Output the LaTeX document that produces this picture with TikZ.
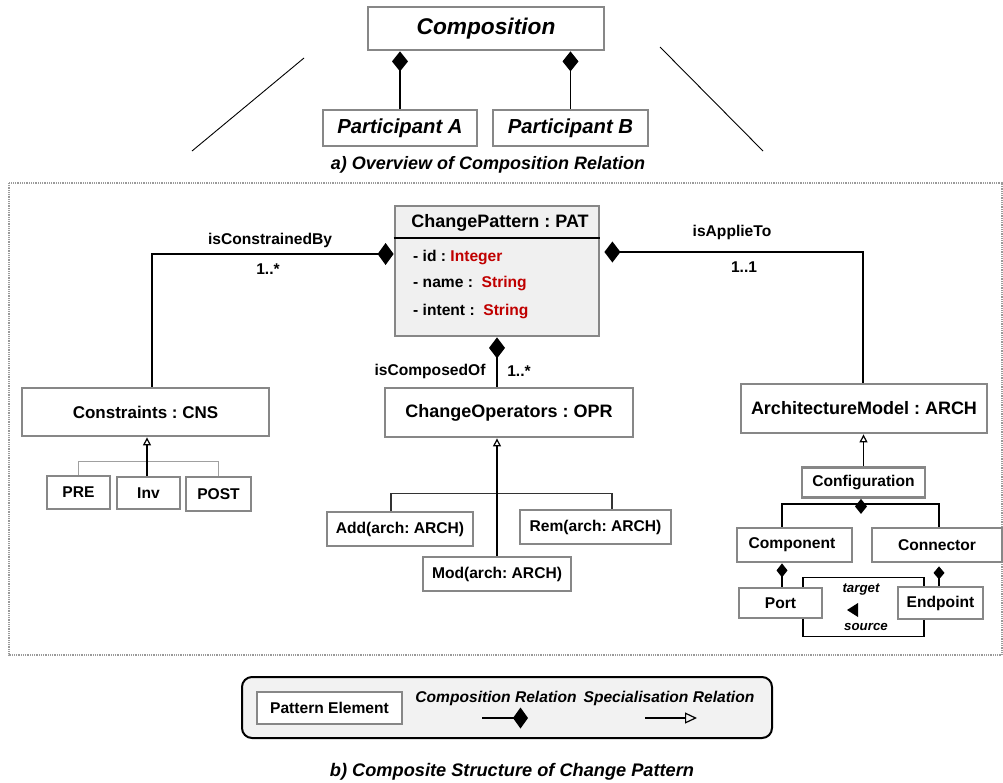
\documentclass[tikz,border=0pt]{standalone}
\usepackage{fontspec}
\setmainfont{Liberation Sans}
\usetikzlibrary{arrows.meta}
\definecolor{boxgray}{HTML}{878787}
\definecolor{fillgray}{HTML}{F0F0F0}
\definecolor{legendgray}{HTML}{F2F2F2}
\definecolor{attrred}{HTML}{C00000}
\definecolor{framegray}{HTML}{9A9A9A}
\definecolor{branchgray}{HTML}{A0A0A0}
\newcommand{\myfs}[1]{\fontsize{#1}{#1}\selectfont\bfseries\frenchspacing}
\newcommand{\myfsi}[1]{\fontsize{#1}{#1}\selectfont\bfseries\itshape\frenchspacing}
\begin{document}
\begin{tikzpicture}[x=1pt,y=-1pt,
  box/.style={draw=boxgray, line width=2.8pt, fill=white, inner sep=0pt, align=center},
  big/.style={font=\myfs{18}},
  sm/.style={font=\myfs{15.6}},
  lbl/.style={font=\myfs{15.6}, inner sep=0pt},
  conn/.style={line width=1.2pt, draw=black},
]
\useasboundingbox (0,0) rectangle (1003,782);

% ---------- a) overview ----------
\node[box, font=\myfsi{22.7}, minimum width=236pt, minimum height=43pt] (comp) at (486,28.5) {Composition};
\node[box, font=\myfsi{20.3}, minimum width=154pt, minimum height=36pt] (pa) at (400,128) {Participant A};
\node[box, font=\myfsi{20.3}, minimum width=155pt, minimum height=36pt] (pb) at (570.5,128) {Participant B};
\draw[conn, -{Diamond[length=20pt,width=16pt]}] (pa.north) -- (pa.north |- comp.south);
\draw[conn, -{Diamond[length=20pt,width=16pt]}] (pb.north) -- (pb.north |- comp.south);
\draw[line width=0.9pt] (304,58) -- (192,151);
\draw[line width=0.9pt] (660,47) -- (763,151);
\node[font=\myfsi{18}, inner sep=0pt] (capa) at (488,165) {a) Overview of Composition Relation};

% ---------- frame ----------
\draw[framegray, line width=1.3pt, dash pattern=on 1pt off 0.8pt] (9,183) rectangle (1002,655);

% ---------- ChangePattern ----------
\node[box, fill=fillgray, minimum width=204pt, minimum height=130pt] (cp) at (497,271) {};
\draw[line width=1.2pt] (cp.west |- 0,238) -- (cp.east |- 0,238);
\node[big, inner sep=0pt] (cpt) at (500,223) {ChangePattern : PAT};
\node[sm, inner sep=0pt, anchor=west] (a1) at (413,257) {- id : \textcolor{attrred}{Integer}};
\node[sm, inner sep=0pt, anchor=west] (a2) at (413,283) {- name :\ \ \textcolor{attrred}{String}};
\node[sm, inner sep=0pt, anchor=west] (a3) at (413,311) {- intent :\ \ \textcolor{attrred}{String}};

% ---------- Constraints ----------
\node[box, font=\myfs{17}, minimum width=247pt, minimum height=48pt] (cns) at (145.5,412) {Constraints : CNS};
\node[box, sm, minimum width=63pt, minimum height=33pt] (pre) at (78.5,492.5) {PRE};
\node[box, sm, minimum width=63pt, minimum height=32pt] (inv) at (148.5,493) {Inv};
\node[box, sm, minimum width=65pt, minimum height=34pt] (post) at (218.5,494) {POST};
\draw[line width=1.2pt, branchgray] (pre.north) -- ++(0,-13) -| (post.north);
\draw[conn, -{Triangle[open, length=8pt, width=8pt]}] ([xshift=-1.5pt]inv.north) -- ([xshift=-1.5pt]inv.north |- cns.south);
\draw[conn, -{Diamond[length=16pt,width=22pt]}] ([xshift=6.5pt]cns.north) |- ([yshift=17pt]cp.west);
\node[lbl] (l1) at (270,240) {isConstrainedBy};
\node[lbl] (m1) at (268,269) {1..*};

% ---------- ChangeOperators ----------
\node[box, big, minimum width=248pt, minimum height=49pt] (opr) at (509,412.5) {ChangeOperators : OPR};
\node[box, sm, minimum width=146pt, minimum height=34pt] (add) at (400,529) {Add(arch: ARCH)};
\node[box, sm, minimum width=151pt, minimum height=34pt] (rem) at (595.5,527) {Rem(arch: ARCH)};
\node[box, sm, minimum width=148pt, minimum height=34pt] (mod) at (497,574) {Mod(arch: ARCH)};
\draw[conn, draw=black!80] ([xshift=-9pt]add.north) -- ++(0,-17) -| ([xshift=16.5pt]rem.north);
\draw[conn, -{Triangle[open, length=8pt, width=8pt]}] (mod.north) -- (mod.north |- opr.south);
\draw[conn, -{Diamond[length=21pt,width=16pt]}] (cp.south |- opr.north) -- (cp.south);
\node[lbl] (l2) at (430,371) {isComposedOf};
\node[lbl] (m2) at (519,371) {1..*};

% ---------- ArchitectureModel ----------
\node[box, big, minimum width=246pt, minimum height=49pt] (arch) at (864,408.5) {ArchitectureModel : ARCH};
\draw[conn, -{Diamond[length=16pt,width=21pt]}] ([xshift=-1pt]arch.north) |- ([xshift=4pt,yshift=19pt]cp.east);
\node[lbl] (l3) at (732,232) {isApplieTo};
\node[lbl] (m3) at (744,267) {1..1};

\node[box, sm, minimum width=123pt, minimum height=30pt] (conf) at (863.5,482.5) {Configuration};
\draw[conn, -{Triangle[open, length=8pt, width=8pt]}] (conf.north) -- (conf.north |- arch.south);

\node[box, sm, minimum width=115pt, minimum height=34pt] (cpn) at (794.5,545) {\hspace*{-5pt}Component};
\node[box, sm, minimum width=130pt, minimum height=34pt] (con) at (937,545) {Connector};
\coordinate (jn) at (861,504);
\draw[conn] (cpn.north -| 782,0) |- (jn) -| (con.north -| 939,0);
\draw[conn, -{Diamond[length=15pt,width=12pt]}] ([yshift=-8pt]jn) -- (conf.south -| jn);

\node[box, sm, minimum width=83pt, minimum height=30pt] (port) at (780.5,603) {Port};
\node[box, sm, minimum width=85pt, minimum height=32pt] (ep) at (940.5,603) {Endpoint};
\draw[conn, -{Diamond[length=14pt,width=11pt]}] (port.north -| 782,0) -- (cpn.south -| 782,0);
\draw[conn, -{Diamond[length=13pt,width=11pt]}] (ep.north -| 939,0) -- ([yshift=-3pt]con.south -| 939,0);
\draw[line width=1.1pt] ([xshift=22.5pt]port.north) -- ++(0,-9) -| ([xshift=-16.5pt]ep.north);
\draw[line width=1.1pt] ([xshift=22.5pt]port.south) -- ++(0,17) -| ([xshift=-16.5pt]ep.south);
\node[font=\myfsi{13.3}, inner sep=0pt] (tg) at (861,590) {target};
\node[font=\myfsi{13.3}, inner sep=0pt] (sr) at (866,627) {source};
\fill (847,610) -- (858,603) -- (858,617) -- cycle;

% ---------- legend ----------
\node[draw=black, line width=2pt, rounded corners=10pt, fill=legendgray, minimum width=530pt, minimum height=61pt, inner sep=0pt] (legend) at (507,707.5) {};
\node[box, sm, minimum width=145pt, minimum height=32pt] (pe) at (329.5,708) {Pattern Element};
\node[font=\myfsi{15.6}, inner sep=0pt] (lcomp) at (496,698) {Composition Relation};
\node[font=\myfsi{15.6}, inner sep=0pt] (lspec) at (669,698) {Specialisation Relation};
\coordinate (lc1) at (482,718);
\coordinate (lc2) at (528,718);
\coordinate (ls1) at (645,718);
\coordinate (ls2) at (697,718);
\draw[conn, -{Diamond[length=15pt,width=21pt]}] (lc1) -- (lc2);
\draw[conn, -{Triangle[open, length=12pt, width=11pt]}] (ls1) -- (ls2);

\node[font=\myfsi{18.2}, inner sep=0pt] (capb) at (512,772) {b) Composite Structure of Change Pattern};
\end{tikzpicture}
\end{document}
